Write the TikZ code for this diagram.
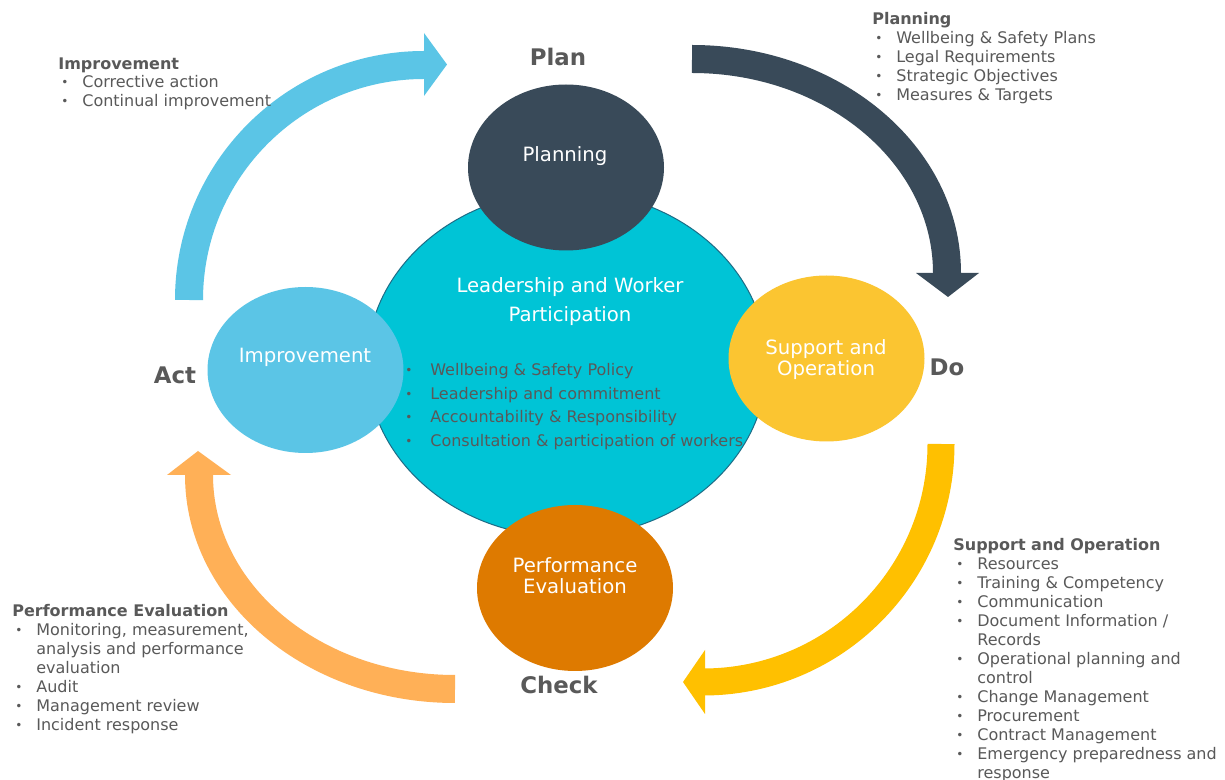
\documentclass[tikz,border=0pt]{standalone}
\usepackage{fontspec}
\usepackage{graphicx}
\setmainfont{DejaVu Sans}
\usetikzlibrary{shapes.geometric}
\newdimen\pxu \pxu=0.02cm
\definecolor{cteal}{HTML}{00C4D6}
\definecolor{ctealline}{HTML}{1D6C86}
\definecolor{cdark}{HTML}{394A59}
\definecolor{clblue}{HTML}{5BC5E6}
\definecolor{cyell}{HTML}{FBC531}
\definecolor{corange}{HTML}{DE7A00}
\definecolor{cyarrow}{HTML}{FFC000}
\definecolor{coarrow}{HTML}{FFB057}
\definecolor{cgrey}{HTML}{595959}
\newcommand\bi{\hspace*{3\pxu}\makebox[21\pxu][l]{\raisebox{1\pxu}{\scalebox{0.75}{\textbullet}}}}
\newcommand\bc{\hspace*{24\pxu}}
\newcommand\bj{\hspace*{2\pxu}\makebox[25\pxu][l]{\raisebox{1\pxu}{\scalebox{0.75}{\textbullet}}}}
\tikzset{
  blob/.style={ellipse, inner sep=0, minimum width=196\pxu, minimum height=166\pxu},
  arr/.style={line width=28\pxu, line cap=butt},
  lbl/.style={font=\bfseries\fontsize{13}{15}\selectfont, text=cgrey, anchor=base, inner sep=0},
  blk/.style={anchor=north west, inner sep=0, align=left, text=cgrey, font=\fontsize{9.1}{10.8}\selectfont},
  etext/.style={text=white, font=\fontsize{11.2}{12}\selectfont, inner sep=0, align=center}
}
\begin{document}
\begin{tikzpicture}[x=0.02cm, y=-0.02cm]
\useasboundingbox (0,0) rectangle (1225,780);
\fill[white] (0,0) rectangle (1225,780);

% arrows
\draw[arr, draw=clblue] (189,300) arc[start angle=180, end angle=90, radius=235\pxu];
\fill[clblue] (424,33) -- (424,96) -- (447,64.5) -- cycle;

\draw[arr, draw=cdark] (692,59) arc[start angle=90, end angle=0, x radius=255\pxu, y radius=214\pxu];
\fill[cdark] (916,273) -- (979,273) -- (948,297) -- cycle;

\draw[arr, line width=27\pxu, draw=cyarrow] (941,444) arc[start angle=0, end angle=-90, radius=238\pxu];
\fill[cyarrow] (705,650) -- (705,714) -- (683,682) -- cycle;

\draw[arr, draw=coarrow] (455,689) arc[start angle=-90, end angle=-180, x radius=256\pxu, y radius=214\pxu];
\fill[coarrow] (167,475) -- (231,475) -- (198,451) -- cycle;

% ellipses
\node[blob, fill=cteal, draw=ctealline, line width=1\pxu, minimum width=400\pxu, minimum height=346\pxu] (lead) at (567,364) {};
\node[blob, fill=cdark] (plan) at (566,167.5) {};
\node[blob, fill=clblue] (impr) at (305.5,370) {};
\node[blob, fill=cyell] (supp) at (826.5,358.5) {};
\node[blob, fill=corange] (perf) at (575,588) {};

% ellipse texts
\node[etext, anchor=base] (plantxt) at (565,162) {Planning};
\node[etext, anchor=base] (imprtxt) at (305,363) {Improvement};
\node[etext, anchor=north] (supptxt) at (826,339) {Support and\\Operation};
\node[etext, anchor=north] (perftxt) at (575,557) {Performance\\Evaluation};
\node[etext, anchor=north, font=\fontsize{11.2}{16.5}\selectfont] (leadtxt) at (570,277) {Leadership and Worker\\Participation};

\node[blk, font=\fontsize{9.1}{13.4}\selectfont] (leadlist) at (403,363) {%
\bj Wellbeing \& Safety Policy\\
\bj Leadership and commitment\\
\bj Accountability \& Responsibility\\
\bj Consultation \& participation of workers};

% phase labels
\node[lbl] (lplan) at (558,66) {Plan};
\node[lbl] (ldo) at (947,376) {Do};
\node[lbl] (lcheck) at (559,694) {Check};
\node[lbl] (lact) at (175,384) {Act};

% text blocks
\node[blk] (impblk) at (58,57) {%
\textbf{Improvement}\\
\bi Corrective action\\
\bi Continual improvement};

\node[blk] (planblk) at (872,12) {%
\textbf{Planning}\\
\bi Wellbeing \& Safety Plans\\
\bi Legal Requirements\\
\bi Strategic Objectives\\
\bi Measures \& Targets};

\node[blk] (suppblk) at (953,538) {%
\textbf{Support and Operation}\\
\bi Resources\\
\bi Training \& Competency\\
\bi Communication\\
\bi Document Information /\\
\bc Records\\
\bi Operational planning and\\
\bc control\\
\bi Change Management\\
\bi Procurement\\
\bi Contract Management\\
\bi Emergency preparedness and\\
\bc response};

\node[blk] (perfblk) at (12,604) {%
\textbf{Performance Evaluation}\\
\bi Monitoring, measurement,\\
\bc analysis and performance\\
\bc evaluation\\
\bi Audit\\
\bi Management review\\
\bi Incident response};
\end{tikzpicture}
\end{document}
